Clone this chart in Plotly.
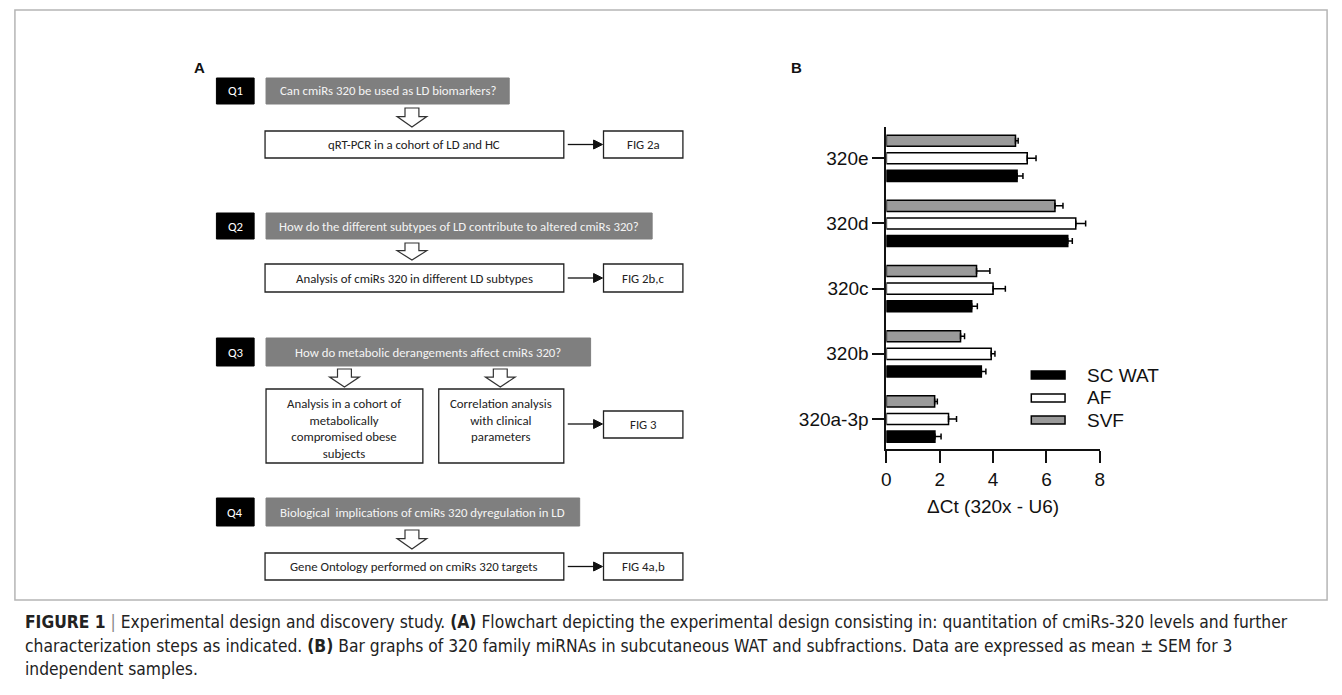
import plotly.graph_objects as go

W, H = 1342, 695

# ---- panel B data: delta Ct of the miR-320 family per fraction ----
mirnas = ["320a-3p", "320b", "320c", "320d", "320e"]
sc_wat = [1.82, 3.56, 3.20, 6.80, 4.90]
sc_wat_sem = [0.23, 0.17, 0.21, 0.17, 0.22]
af = [2.33, 3.93, 4.00, 7.10, 5.28]
af_sem = [0.30, 0.14, 0.46, 0.37, 0.33]
svf = [1.81, 2.78, 3.38, 6.32, 4.84]
svf_sem = [0.10, 0.15, 0.50, 0.30, 0.10]
series_names = ["SC WAT", "AF", "SVF"]
series_colors = ["#000000", "#ffffff", "#9a9a9a"]
x_ticks = [0, 2, 4, 6, 8]

# ---- panel A flowchart text ----
questions = ["Q1", "Q2", "Q3", "Q4"]
question_texts = [
    "Can cmiRs 320 be used as LD biomarkers?",
    "How do the different subtypes of LD contribute to altered cmiRs 320?",
    "How do metabolic derangements affect cmiRs 320?",
    "Biological\u00a0 implications of cmiRs 320 dyregulation in LD",
]
step_texts = [
    "qRT-PCR in a cohort of LD and HC",
    "Analysis of cmiRs 320 in different LD subtypes",
    "Analysis in a cohort of<br>metabolically<br>compromised obese<br>subjects",
    "Correlation analysis<br>with clinical<br>parameters",
    "Gene Ontology performed on cmiRs 320 targets",
]
fig_refs = ["FIG 2a", "FIG 2b,c", "FIG 3", "FIG 4a,b"]

caption_lines = [
    "<b>FIGURE 1</b> <span style='color:#888'>|</span> Experimental design and discovery study. <b>(A)</b> Flowchart depicting the experimental design consisting in: quantitation of cmiRs-320 levels and further",
    "characterization steps as indicated. <b>(B)</b> Bar graphs of 320 family miRNAs in subcutaneous WAT and subfractions. Data are expressed as mean \u00b1 SEM for 3",
    "independent samples.",
]

FLOW_FONT = "Carlito, Lato, 'Open Sans', sans-serif"
FLOW_SIZE = 12.8
ARIAL = "'Liberation Sans', Arial, sans-serif"
NARROW = "'Liberation Sans Narrow', 'DejaVu Sans Condensed', 'Roboto Condensed', 'Liberation Sans', sans-serif"


def X(px):
    return px / W


def Y(py):
    return 1 - py / H


shapes = []
annotations = []


def rect(x0, y0, x1, y1, fill, line="#222222", lw=1.3):
    shapes.append(dict(type="rect", xref="paper", yref="paper",
                       x0=X(x0), x1=X(x1), y0=Y(y1), y1=Y(y0),
                       fillcolor=fill, line=dict(color=line, width=lw), layer="above"))


def text(x, y, s, size=FLOW_SIZE, color="#222222", family=FLOW_FONT, xanchor="center",
         yanchor="middle", align="center"):
    annotations.append(dict(xref="paper", yref="paper", x=X(x), y=Y(y), text=s,
                            showarrow=False, xanchor=xanchor, yanchor=yanchor, align=align,
                            font=dict(size=size, color=color, family=family)))


def block_arrow(cx, y0, y1):
    ys = y0 + (y1 - y0) * 0.45
    pts = [(cx - 7, y0), (cx + 7, y0), (cx + 7, ys), (cx + 15, ys), (cx, y1),
           (cx - 15, ys), (cx - 7, ys)]
    path = "M " + " L ".join(f"{X(a):.5f},{Y(b):.5f}" for a, b in pts) + " Z"
    shapes.append(dict(type="path", xref="paper", yref="paper", path=path,
                       fillcolor="white", line=dict(color="#333333", width=1.2)))


def line_arrow(x0, x1, y):
    shapes.append(dict(type="line", xref="paper", yref="paper", x0=X(x0), x1=X(x1 - 8),
                       y0=Y(y), y1=Y(y), line=dict(color="#111111", width=1.3)))
    pts = [(x1 - 9, y - 4.5), (x1, y), (x1 - 9, y + 4.5)]
    path = "M " + " L ".join(f"{X(a):.5f},{Y(b):.5f}" for a, b in pts) + " Z"
    shapes.append(dict(type="path", xref="paper", yref="paper", path=path,
                       fillcolor="#111111", line=dict(color="#111111", width=1)))


# outer frame
rect(10, 10, 1332, 600, "rgba(0,0,0,0)", line="#b5b5b5", lw=1.5)

# panel labels
text(196, 67, "<b>A</b>", size=15, color="#111111", family=ARIAL)
text(797, 67, "<b>B</b>", size=15, color="#111111", family=ARIAL)

# question rows: (top, bottom, grey box right edge)
q_rows = [(78, 104, 508), (213, 239, 652), (338, 366, 590), (498, 526, 579)]
for q, qt, (t, b, gx1) in zip(questions, question_texts, q_rows):
    rect(213, t, 251, b, "#000000", line="#000000", lw=1)
    text(232, (t + b) / 2, q, color="white")
    rect(263, t, gx1, b, "#7f7f7f", line="#7f7f7f", lw=1)
    text((263 + gx1) / 2, (t + b) / 2, qt, color="#f4f4f4")

# single-step rows
single_rows = [(0, 104, 131, 158), (1, 239, 264, 292), (4, 526, 553, 580)]
ref_idx = [0, 1, 3]
for (si, qb, t, b), ri in zip(single_rows, ref_idx):
    block_arrow(410, qb + 4, t - 4)
    rect(262, t, 563, b, "white")
    text(412.5, (t + b) / 2, step_texts[si])
    line_arrow(567, 602, (t + b) / 2)
    rect(603, t, 683, b, "white")
    text(643, (t + b) / 2, fig_refs[ri])

# Q3 branches into two boxes
block_arrow(342, 369, 387)
block_arrow(499, 369, 387)
rect(263, 389, 421, 463, "white")
rect(437, 389, 563, 463, "white")
text(342, 394, step_texts[2], yanchor="top")
text(500, 394, step_texts[3], yanchor="top")
line_arrow(567, 602, 424)
rect(603, 411, 683, 438, "white")
text(643, 424.5, fig_refs[2])

# legend of panel B
leg_y = [375, 398, 420]
for name, col, yy in zip(series_names, series_colors, leg_y):
    rect(1034, yy - 4, 1068, yy + 4, col, line="#000000", lw=1.5)
    text(1088, yy, name, size=19, color="#111111", family=ARIAL, xanchor="left")

# caption
for i, ln in enumerate(caption_lines):
    text(18, 622 + i * 23.5, ln, size=17.3, color="#222222", family=NARROW,
         xanchor="left", align="left")

# ---- bars ----
fig = go.Figure()
vals = [sc_wat, af, svf]
errs = [sc_wat_sem, af_sem, svf_sem]
for name, col, v, e in zip(series_names, series_colors, vals, errs):
    fig.add_trace(go.Bar(
        name=name, y=mirnas, x=v, orientation="h",
        marker=dict(color=col, line=dict(color="#000000", width=1.5)),
        error_x=dict(type="data", array=e, arrayminus=[0] * len(e), symmetric=False,
                     color="#000000", thickness=1.5, width=3),
        showlegend=False,
    ))

fig.update_layout(
    width=W, height=H,
    margin=dict(l=0, r=0, t=0, b=0),
    paper_bgcolor="white", plot_bgcolor="white",
    barmode="group", bargap=0.19, bargroupgap=0.37,
    shapes=shapes, annotations=annotations,
    xaxis=dict(domain=[X(888), X(1103)], range=[0, 8], tickvals=x_ticks,
               showline=True, linewidth=2, linecolor="#111111", ticks="outside",
               ticklen=12, tickwidth=2, tickcolor="#111111", showgrid=False, zeroline=False,
               tickfont=dict(size=19, color="#111111", family=ARIAL),
               title=dict(text="\u0394Ct (320x - U6)", standoff=11,
                          font=dict(size=19, color="#111111", family=ARIAL)),
               anchor="y"),
    yaxis=dict(domain=[Y(449), Y(127)], range=[-0.46, 4.48], type="category",
               categoryorder="array", categoryarray=mirnas,
               showline=True, linewidth=2, linecolor="#111111", ticks="outside",
               ticklen=12, tickwidth=2, tickcolor="#111111", showgrid=False, zeroline=False,
               tickfont=dict(size=19, color="#111111", family=ARIAL),
               anchor="x"),
)

fig.write_html("out.html")
